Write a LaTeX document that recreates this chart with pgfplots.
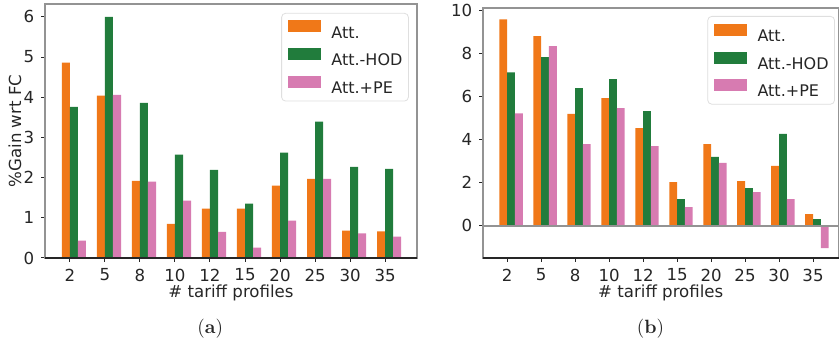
\documentclass[border=0pt]{standalone}
\usepackage{pgfplots}
\usepackage{pgfplotstable}
\pgfplotsset{compat=1.18}
\usepackage{fontspec}
\newfontfamily\dejavu{DejaVu Sans}

\definecolor{cA}{HTML}{F07818}
\definecolor{cH}{HTML}{217C3C}
\definecolor{cP}{HTML}{D77BB1}
\definecolor{txt}{HTML}{262626}

% % gain with respect to FC, per number of tariff profiles
\pgfplotstableread{
x att  hod  pe
0 4.86 3.76 0.43
1 4.04 6.00 4.06
2 1.92 3.86 1.90
3 0.85 2.57 1.43
4 1.23 2.19 0.65
5 1.23 1.35 0.26
6 1.80 2.62 0.93
7 1.97 3.39 1.97
8 0.68 2.27 0.61
9 0.66 2.22 0.53
}\dataA

\pgfplotstableread{
x att  hod  pe
0 9.60 7.13 5.23
1 8.82 7.85 8.36
2 5.20 6.40 3.80
3 5.94 6.82 5.47
4 4.54 5.33 3.71
5 2.03 1.24 0.87
6 3.80 3.20 2.92
7 2.08 1.75 1.57
8 2.78 4.27 1.24
9 0.54 0.31 -1.04
}\dataB

\tikzset{subcap/.style={font=\fontsize{9.6}{11}\selectfont, text=txt}}

\pgfplotsset{
  panel/.style={
    scale only axis, anchor=north west, clip mode=individual,
    axis line style={gray!85, line width=0.6pt},
    xtick={0,...,9},
    xticklabels={2,5,8,10,12,15,20,25,30,35},
    tick align=outside, xtick pos=bottom, ytick pos=left,
    major tick length=1.9pt,
    every tick/.style={txt, line width=0.5pt},
    /pgf/number format/assume math mode=true,
    tick label style={font=\dejavu\fontsize{8.3}{10}\selectfont, text=txt},
    label style={font=\dejavu\fontsize{8.3}{10}\selectfont, text=txt},
    xlabel={\# tariff profiles},
    xmin=-0.71,
    legend cell align=left,
    legend style={anchor=north east, draw=gray!25, rounded corners=2pt,
      fill=white, text=txt, font=\dejavu\fontsize{8}{9.6}\selectfont,
      inner xsep=3pt, inner ysep=3.6pt, row sep=5.2pt, column sep=5.5pt,
      nodes={inner sep=0pt, text height=5.83pt, text depth=0pt}},
  },
  bA/.style={ybar, bar width=0.23, bar shift=-0.115, fill=cA, draw=none, forget plot},
  bH/.style={ybar, bar width=0.23, bar shift=0.115, fill=cH, draw=none, forget plot},
  bP/.style={ybar, bar width=0.23, bar shift=0.345, fill=cP, draw=none, forget plot},
}

\newcommand{\legpatch}[1]{\addlegendimage{legend image code/.code={\fill[#1, sharp corners] (0pt,0.15pt) rectangle (16pt,5.65pt);}}}

\begin{document}
\begin{tikzpicture}
\path[use as bounding box] (0pt,0pt) rectangle (419.5pt,-170.5pt);

\begin{axis}[panel,
  at={(22.5pt,-2pt)}, width=186pt, height=127pt,
  xmax=9.91, ymin=0, ymax=6.32,
  ytick={0,1,2,3,4,5,6},
  ylabel={\%Gain wrt FC},
  ylabel style={at={(axis description cs:-0.081,0.5)}, anchor=center},
  xlabel style={at={(axis description cs:0.5,-0.138)}, anchor=center},
  legend style={at={(0.978,0.965)}},
]
\addplot[bA] table[x=x, y=att] {\dataA};
\addplot[bH] table[x=x, y=hod] {\dataA};
\addplot[bP] table[x=x, y=pe]  {\dataA};
\legpatch{cA}\addlegendentry{Att.}
\legpatch{cH}\addlegendentry{Att.-HOD}
\legpatch{cP}\addlegendentry{Att.+PE}
\draw[txt, line width=0.6pt] (rel axis cs:0,0) -- (rel axis cs:1,0);
\node[subcap] at (axis description cs:0.444,-0.278) {(\textbf{a})};
\end{axis}

\begin{axis}[panel,
  at={(241.5pt,-4pt)}, width=177.75pt, height=125pt,
  xmax=9.75, ymin=-1.5, ymax=10.13,
  ytick={0,2,4,6,8,10},
  xlabel style={at={(axis description cs:0.5,-0.14)}, anchor=center},
  legend style={at={(0.990,0.968)}},
]
\addplot[bA] table[x=x, y=att] {\dataB};
\addplot[bH] table[x=x, y=hod] {\dataB};
\addplot[bP] table[x=x, y=pe]  {\dataB};
\legpatch{cA}\addlegendentry{Att.}
\legpatch{cH}\addlegendentry{Att.-HOD}
\legpatch{cP}\addlegendentry{Att.+PE}
\draw[gray!85, line width=0.8pt] (axis cs:-0.71,0) -- (axis cs:9.75,0);
\draw[txt, line width=0.6pt] (rel axis cs:0,0) -- (rel axis cs:1,0);
\node[subcap] at (axis description cs:0.471,-0.284) {(\textbf{b})};
\end{axis}
\end{tikzpicture}
\end{document}
